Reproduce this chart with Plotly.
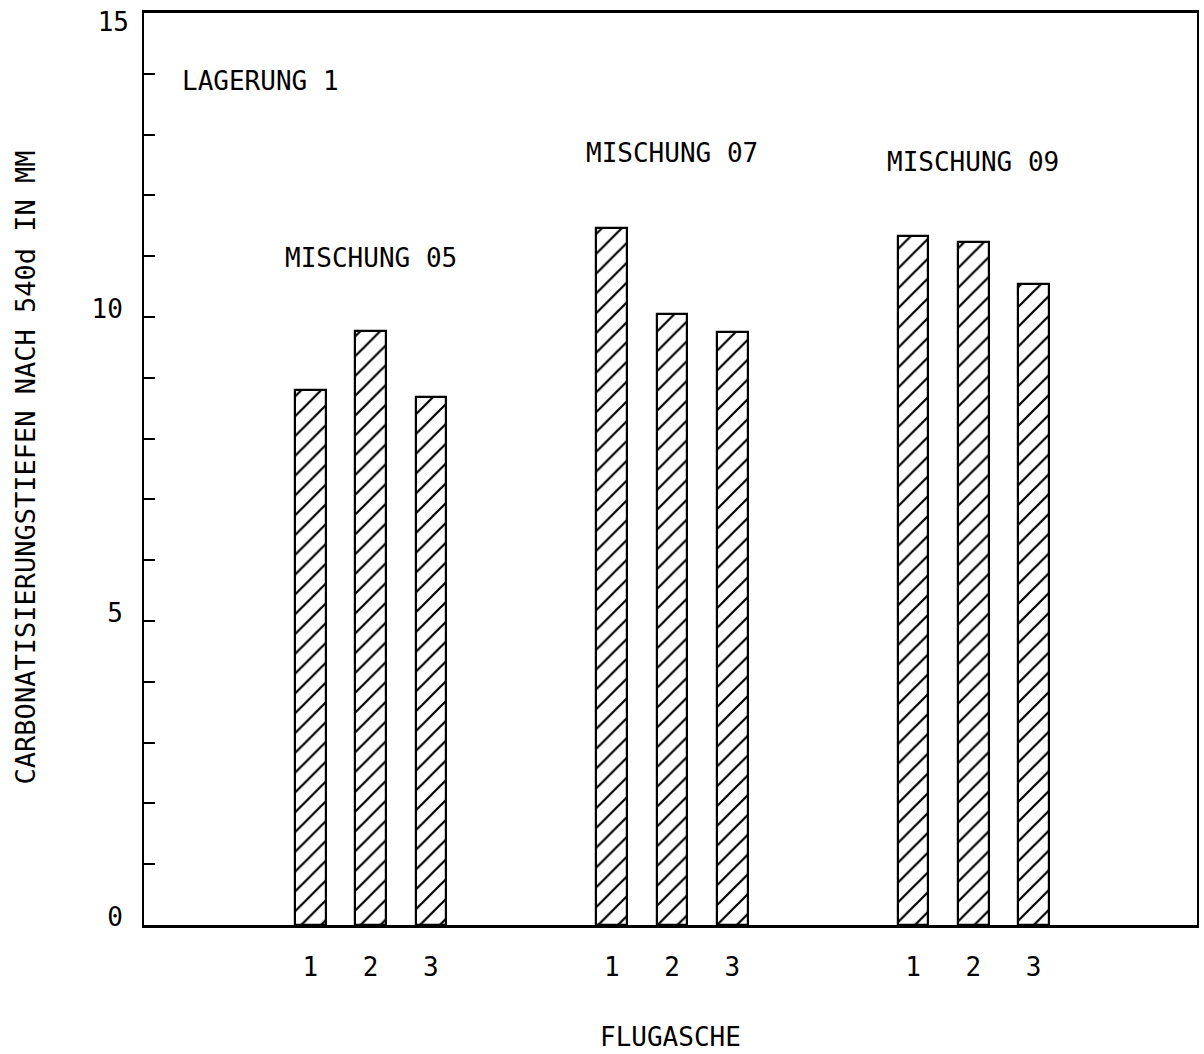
import plotly.graph_objects as go

# ---- data ----
groups = ["MISCHUNG 05", "MISCHUNG 07", "MISCHUNG 09"]
flugasche = ["1", "2", "3"]
mischung_05 = [8.80, 9.77, 8.68]
mischung_07 = [11.46, 10.05, 9.75]
mischung_09 = [11.33, 11.23, 10.54]
series = [mischung_05, mischung_07, mischung_09]
label_heights = [10.97, 12.70, 12.55]
y_tick_values = list(range(0, 15))
y_tick_labels = [str(v) if v % 5 == 0 else "" for v in y_tick_values]
y_top_tick = [15]
y_top_label = ["15"]

GROUP_STEP = 5  # slot units between groups
FONT = "DejaVu Sans Mono"

x_pos, y_val, x_text = [], [], []
for g, vals in enumerate(series):
    for i, v in enumerate(vals):
        x_pos.append(g * GROUP_STEP + i)
        y_val.append(v)
        x_text.append(flugasche[i])

fig = go.Figure()
fig.add_trace(go.Bar(
    x=x_pos, y=y_val, width=0.51,
    marker=dict(color="white",
                line=dict(color="black", width=2.2),
                pattern=dict(shape="/", fgcolor="black", bgcolor="white",
                             size=14, solidity=0.16, fgopacity=1, fillmode="replace")),
    showlegend=False,
))
# helper (invisible) trace so the secondary left axis carrying the "15" label is drawn
fig.add_trace(go.Scatter(x=[None], y=[None], yaxis="y2", mode="markers",
                         showlegend=False, hoverinfo="skip"))

annotations = []
for g, name in enumerate(groups):
    annotations.append(dict(x=g * GROUP_STEP + 1, y=label_heights[g], xref="x", yref="y",
                            text=name, showarrow=False, xanchor="center", yanchor="middle",
                            font=dict(family=FONT, size=26, color="black")))
annotations.append(dict(x=0.034, y=0.9254, xref="paper", yref="paper",
                        xanchor="left", yanchor="middle",
                        text="LAGERUNG 1", showarrow=False,
                        font=dict(family=FONT, size=26, color="black")))
annotations.append(dict(x=-0.1128, y=0.502, xref="paper", yref="paper",
                        xanchor="center", yanchor="middle",
                        text="CARBONATISIERUNGSTIEFEN NACH 540d IN MM", textangle=-90,
                        showarrow=False, font=dict(family=FONT, size=27, color="black")))
annotations.append(dict(x=0.5, y=-0.1228, xref="paper", yref="paper",
                        xanchor="center", yanchor="middle",
                        text="FLUGASCHE", showarrow=False,
                        font=dict(family=FONT, size=26, color="black")))

fig.update_layout(
    width=1204, height=1054,
    margin=dict(l=144, r=5, t=13, b=129),
    paper_bgcolor="white", plot_bgcolor="white",
    bargap=0,
    annotations=annotations,
    font=dict(family=FONT, size=26, color="black"),
    xaxis=dict(
        range=[-2.76, 14.71], tickvals=x_pos, ticktext=x_text,
        showgrid=False, zeroline=False, showline=True, linecolor="black", linewidth=2.5,
        mirror=True, ticks="", ticklabelstandoff=17,
        tickfont=dict(family=FONT, size=26, color="black"),
    ),
    yaxis=dict(
        range=[0, 15], tickvals=y_tick_values, ticktext=y_tick_labels,
        showgrid=False, zeroline=False, showline=True, linecolor="black", linewidth=2,
        mirror=True, ticks="inside", ticklen=11, tickwidth=1.5, tickcolor="black",
        ticklabelstandoff=14, ticklabelshift=-8,
        tickfont=dict(family=FONT, size=26, color="black"),
    ),
    yaxis2=dict(
        overlaying="y", side="left", range=[0, 15],
        tickvals=y_top_tick, ticktext=y_top_label,
        showgrid=False, zeroline=False, showline=False, ticks="inside",
        ticklen=11, tickwidth=1.5, tickcolor="black",
        ticklabelstandoff=14, ticklabelshift=9,
        tickfont=dict(family=FONT, size=26, color="black"),
    ),
)

fig.write_html("out.html")
